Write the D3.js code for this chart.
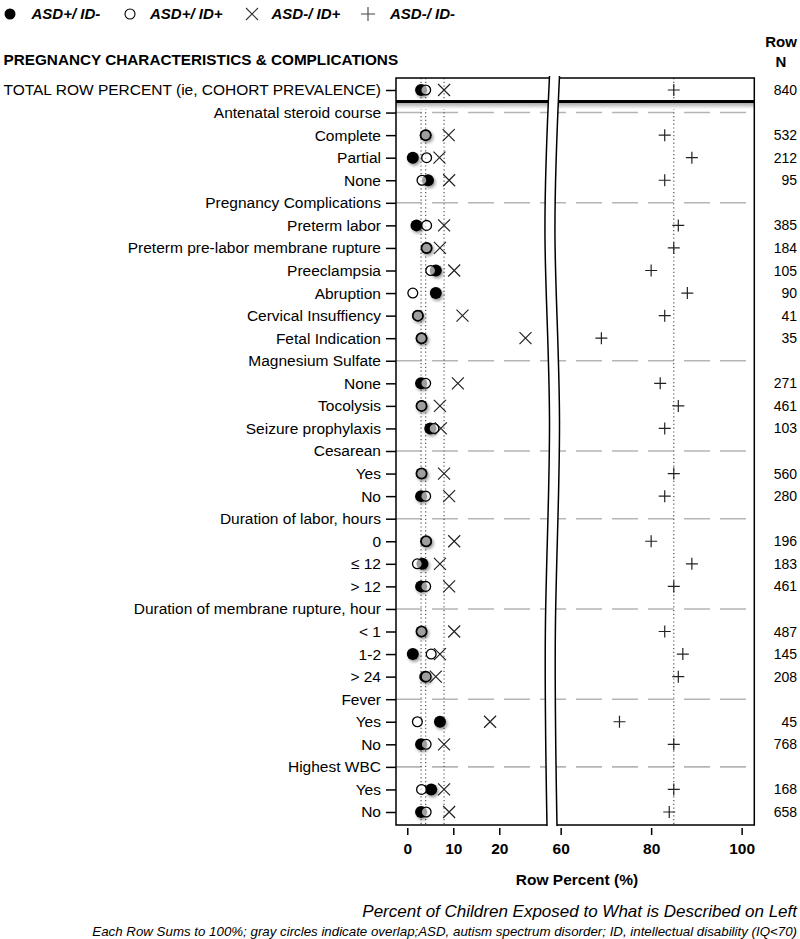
<!DOCTYPE html>
<html>
<head>
<meta charset="utf-8">
<script src="https://cdn.jsdelivr.net/npm/d3@7"></script>
<style>
body { margin: 0; background: #fff; }
svg { font-family: "Liberation Sans", Arial, sans-serif; }
</style>
</head>
<body>
<svg id="chart" width="800" height="939"></svg>
<script>
let rowLabels = ["TOTAL ROW PERCENT (ie, COHORT PREVALENCE)", "Antenatal steroid course", "Complete", "Partial", "None",
    "Pregnancy Complications", "Preterm labor", "Preterm pre-labor membrane rupture", "Preeclampsia", "Abruption",
    "Cervical Insuffiency", "Fetal Indication", "Magnesium Sulfate", "None", "Tocolysis", "Seizure prophylaxis",
    "Cesarean", "Yes", "No", "Duration of labor, hours", "0", "≤ 12", "> 12", "Duration of membrane rupture, hour",
    "< 1", "1-2", "> 24", "Fever", "Yes", "No", "Highest WBC", "Yes", "No"]

// null N = group header row
let rowN = [840, null, 532, 212, 95, null, 385, 184, 105, 90, 41, 35, null, 271, 461, 103, null, 560, 280, null,
    196, 183, 461, null, 487, 145, 208, null, 45, 768, null, 168, 658]

let asdPosIdNeg = [3, null, 4, 1.2, 4.5, null, 2, 4.2, 6.2, 6.2, 2.3, 3.1, null, 3, 3.1, 5, null, 3.1, 3, null,
    4.1, 3.3, 3, null, 3.1, 1.2, 3.9, null, 7.1, 3, null, 5.2, 3]
let asdPosIdPos = [4, null, 4, 4.2, 3.2, null, 4.2, 4.2, 5.1, 1.2, 2.3, 3.1, null, 4, 3.1, 5.8, null, 3.1, 4, null,
    4.1, 2.2, 4, null, 3.1, 5.2, 4.1, null, 2.2, 4.1, null, 3.1, 4.1]
let asdNegIdPos = [8, null, 9, 7, 9.1, null, 8, 7.1, 10.2, null, 12, 25.7, null, 11, 7.1, 7.3, null, 8, 9.1, null,
    10.2, 7.1, 9.1, null, 10.2, 7.1, 6.2, null, 18, 8, null, 8, 9.1]
let asdNegIdNeg = [85, null, 83, 89, 83, null, 86, 85, 80, 88, 83, 69, null, 82, 86, 83, null, 85, 83, null,
    80, 89, 85, null, 83, 87, 86, null, 73, 85, null, 85, 84]

let leftTicks = [0, 10, 20]
let rightTicks = [60, 80, 100]

let svg = d3.select('#chart')

let y = d3.scalePoint().domain(d3.range(rowLabels.length)).range([90, 812])
let xL = d3.scaleLinear().domain([-2.45, 30.2]).range([396, 546.2])
let xR = d3.scaleLinear().domain([59.3, 102.8]).range([557.5, 754.3])
let xOf = (v) => v < 45 ? xL(v) : xR(v)

let frameTop = 78, frameBottom = 825, boxLine = 101.5
let leftEdge = xL.range()[0], rightEdge = xR.range()[1]

let defs = svg.append('defs')
defs.append('filter').attr('id', 'shadow')
    .attr('x', '-60%').attr('y', '-60%').attr('width', '220%').attr('height', '220%')
    .append('feDropShadow')
    .attr('dx', 1.5).attr('dy', 2).attr('stdDeviation', 1.6)
    .attr('flood-color', '#000').attr('flood-opacity', 0.4)
let grad = defs.append('linearGradient').attr('id', 'lineShade')
    .attr('x1', 0).attr('y1', 0).attr('x2', 0).attr('y2', 1)
grad.append('stop').attr('offset', 0).attr('stop-color', '#aaa')
grad.append('stop').attr('offset', 1).attr('stop-color', '#fff')

// legend
let legend = svg.append('g').attr('transform', 'translate(0,14)')
legend.append('circle').attr('cx', 10).attr('cy', 0).attr('r', 5.5).attr('fill', '#000')
legend.append('circle').attr('cx', 130).attr('cy', 0).attr('r', 5).attr('fill', '#fff')
    .attr('stroke', '#000').attr('stroke-width', 1.1)
legend.append('path').attr('d', 'M246,-6L258,6M246,6L258,-6').attr('stroke', '#333').attr('stroke-width', 1.1)
legend.append('path').attr('d', 'M361,0H375M368,-7V7').attr('stroke', '#444').attr('stroke-width', 1.1)
let legendText = [["ASD+/ ID-", 31.5], ["ASD+/ ID+", 150], ["ASD-/ ID+", 271.5], ["ASD-/ ID-", 390]]
legend.selectAll('.ltext').data(legendText).enter().append('text')
    .attr('x', d => d[1]).attr('y', 5)
    .style('font-size', '15px').style('font-weight', 'bold').style('font-style', 'italic')
    .text(d => d[0])

svg.append('text').attr('x', 3.5).attr('y', 65)
    .style('font-size', '15.3px').style('font-weight', 'bold')
    .text('PREGNANCY CHARACTERISTICS & COMPLICATIONS')
svg.append('text').attr('x', 781).attr('y', 47).attr('text-anchor', 'middle')
    .style('font-size', '15px').style('font-weight', 'bold').text('Row')
svg.append('text').attr('x', 781).attr('y', 67).attr('text-anchor', 'middle')
    .style('font-size', '15px').style('font-weight', 'bold').text('N')

// group header dashes
let headers = d3.range(rowLabels.length).filter(i => rowN[i] === null)
svg.selectAll('.hdr').data(headers).enter().append('line')
    .attr('x1', leftEdge).attr('x2', rightEdge)
    .attr('y1', d => y(d)).attr('y2', d => y(d))
    .attr('stroke', '#b5b5b5').attr('stroke-width', 1.6).attr('stroke-dasharray', '26,10')

// reference lines at cohort prevalence
let refs = [asdPosIdNeg[0], asdPosIdPos[0], asdNegIdPos[0], asdNegIdNeg[0]]
svg.selectAll('.ref').data(refs).enter().append('line')
    .attr('x1', d => xOf(d)).attr('x2', d => xOf(d))
    .attr('y1', frameTop).attr('y2', frameBottom)
    .attr('stroke', '#555').attr('stroke-width', 1.2).attr('stroke-dasharray', '1.2,2.6')

// frame
svg.append('rect').attr('x', leftEdge).attr('y', boxLine + 1.5)
    .attr('width', rightEdge - leftEdge).attr('height', 6).attr('fill', 'url(#lineShade)')
svg.append('path')
    .attr('d', `M${leftEdge},${frameTop}H${rightEdge}V${frameBottom}H${leftEdge}Z`)
    .attr('fill', 'none').attr('stroke', '#000').attr('stroke-width', 1.5)
svg.append('path').attr('d', `M${leftEdge},${boxLine}H${rightEdge}`)
    .attr('stroke', '#000').attr('stroke-width', 3)

// axis break
let wave = [[549.5, 76], [545, 240], [549.5, 420], [545.5, 620], [547, 826]]
svg.append('path').datum(wave)
    .attr('d', d3.area().y(d => d[1]).x0(d => d[0]).x1(d => d[0] + 10).curve(d3.curveNatural))
    .attr('fill', '#fff')
let waveLine = d3.line().curve(d3.curveNatural)
svg.append('path').datum(wave).attr('d', waveLine)
    .attr('fill', 'none').attr('stroke', '#000').attr('stroke-width', 1.5)
svg.append('path').datum(wave.map(d => [d[0] + 10, d[1]])).attr('d', waveLine)
    .attr('fill', 'none').attr('stroke', '#000').attr('stroke-width', 1.5)

// row labels
let yAxis = svg.append('g').attr('transform', `translate(${leftEdge},0)`)
    .call(d3.axisLeft(y).tickSize(10).tickPadding(5).tickFormat(i => rowLabels[i]))
yAxis.select('.domain').remove()
yAxis.selectAll('line').attr('stroke', '#000').attr('stroke-width', 1.5)
yAxis.selectAll('text').attr('fill', '#000').style('font-size', '15.5px').style('font-family', '"Liberation Sans", Arial, sans-serif')

// bottom axes
let drawX = (scale, ticks) => {
    let g = svg.append('g').attr('transform', `translate(0,${frameBottom + 3})`)
        .call(d3.axisBottom(scale).tickValues(ticks).tickSize(7).tickPadding(8))
    g.select('.domain').remove()
    g.selectAll('line').attr('stroke', '#000').attr('stroke-width', 1.5)
    g.selectAll('text').attr('fill', '#000').style('font-size', '15.5px').style('font-weight', 'bold')
        .style('font-family', '"Liberation Sans", Arial, sans-serif')
}
drawX(xL, leftTicks)
drawX(xR, rightTicks)

// row N
svg.selectAll('.rown').data(d3.range(rowLabels.length).filter(i => rowN[i] !== null)).enter().append('text')
    .attr('x', 797).attr('y', d => y(d)).attr('dy', '0.36em').attr('text-anchor', 'end')
    .style('font-size', '14px').text(d => rowN[d])

// markers
let rows = d3.range(rowLabels.length)
svg.selectAll('.cross').data(rows.filter(i => asdNegIdPos[i] !== null)).enter().append('path')
    .attr('transform', d => `translate(${xOf(asdNegIdPos[d])},${y(d)})`)
    .attr('d', 'M-6,-6L6,6M-6,6L6,-6')
    .attr('stroke', '#222').attr('stroke-width', 1.2).attr('fill', 'none')
svg.selectAll('.plus').data(rows.filter(i => asdNegIdNeg[i] !== null)).enter().append('path')
    .attr('transform', d => `translate(${xOf(asdNegIdNeg[d])},${y(d)})`)
    .attr('d', 'M-6,0H6M0,-6V6')
    .attr('stroke', '#222').attr('stroke-width', 1.2).attr('fill', 'none')
svg.selectAll('.filled').data(rows.filter(i => asdPosIdNeg[i] !== null)).enter().append('circle')
    .attr('cx', d => xOf(asdPosIdNeg[d])).attr('cy', d => y(d)).attr('r', 6)
    .attr('fill', '#000').attr('filter', 'url(#shadow)')
svg.selectAll('.open').data(rows.filter(i => asdPosIdPos[i] !== null)).enter().append('circle')
    .attr('cx', d => xOf(asdPosIdPos[d])).attr('cy', d => y(d)).attr('r', 4.9)
    .attr('fill', '#fff').attr('fill-opacity', 0.62)
    .attr('stroke', '#000').attr('stroke-width', 1.3)

svg.append('text').attr('x', 577).attr('y', 885).attr('text-anchor', 'middle')
    .style('font-size', '15.5px').style('font-weight', 'bold').text('Row Percent (%)')
svg.append('text').attr('x', 797).attr('y', 917).attr('text-anchor', 'end')
    .style('font-size', '17px').style('font-style', 'italic')
    .text('Percent of Children Exposed to What is Described on Left')
svg.append('text').attr('x', 797).attr('y', 935.5).attr('text-anchor', 'end')
    .style('font-size', '13.3px').style('font-style', 'italic')
    .text('Each Row Sums to 100%; gray circles indicate overlap;ASD, autism spectrum disorder; ID, intellectual disability (IQ<70)')
</script>
</body>
</html>
